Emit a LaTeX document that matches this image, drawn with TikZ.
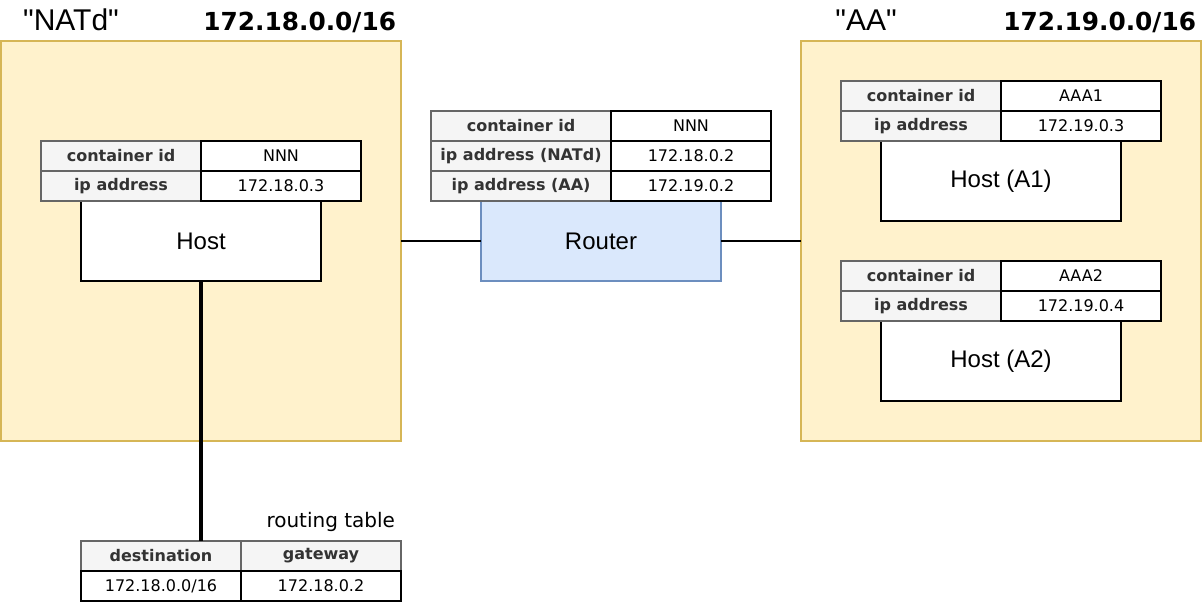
\documentclass[tikz,border=0pt]{standalone}
\usepackage{fontspec}
\setmainfont{Liberation Sans}[Ligatures=TeXOff]
\newfontfamily\vfont{DejaVu Sans}
\definecolor{zonefill}{HTML}{FFF2CC}
\definecolor{zonedraw}{HTML}{D6B656}
\definecolor{hfill}{HTML}{F5F5F5}
\definecolor{hdraw}{HTML}{666666}
\definecolor{rfill}{HTML}{DAE8FC}
\definecolor{rdraw}{HTML}{6C8EBF}
\definecolor{htext}{HTML}{333333}
\tikzset{
  zone/.style={draw=zonedraw, fill=zonefill, line width=1pt, minimum width=300pt, minimum height=300pt},
  hcell/.style={draw=hdraw, fill=hfill, line width=1pt, minimum height=22.5pt, text=htext, font=\vfont\bfseries\fontsize{12}{14}\selectfont},
  vcell/.style={draw=black, fill=white, line width=1pt, minimum height=22.5pt, font=\vfont\fontsize{12}{14}\selectfont},
  hostbox/.style={draw=black, fill=white, line width=1pt, minimum width=180pt, minimum height=60pt, font=\fontsize{18}{22}\selectfont},
  routerbox/.style={draw=rdraw, fill=rfill, line width=1pt, minimum width=180pt, minimum height=60pt, font=\fontsize{18}{22}\selectfont},
  title/.style={font=\fontsize{22.5}{27}\selectfont},
  subnet/.style={font=\vfont\bfseries\fontsize{18.6}{22}\selectfont, anchor=east},
  conn/.style={draw=black, line width=1pt},
  thickconn/.style={draw=black, line width=3pt},
}
\begin{document}
\begin{tikzpicture}[x=0.75pt,y=-0.75pt, every node/.style={inner sep=0pt, outer sep=0pt}]
\useasboundingbox (0,0) rectangle (1202,602);

% zones
\node[zone] (natd) at (201,241) {};
\node[zone] (aa) at (1001,241) {};

% titles
\node[title] (natdtitle) at (71,20) {"NATd"};
\node[subnet] (natdnet) at (396,22) {172.18.0.0/16};
\node[title] (aatitle) at (866,20) {"AA"};
\node[subnet] (aanet) at (1196,22) {172.19.0.0/16};

% NATd host
\node[hostbox] (host) at (201,241) {Host};
\node[hcell, minimum width=120pt] (hc1) at (121,156) {container id};
\node[hcell, minimum width=120pt] (hc2) at (121,186) {ip address};
\node[vcell, minimum width=120pt] (hv1) at (281,156) {NNN};
\node[vcell, minimum width=120pt] (hv2) at (281,186) {172.18.0.3};

% Router
\node[routerbox] (router) at (601,241) {Router};
\node[hcell, minimum width=135pt] (rc1) at (521,126) {container id};
\node[hcell, minimum width=135pt] (rc2) at (521,156) {ip address (NATd)};
\node[hcell, minimum width=135pt] (rc3) at (521,186) {ip address (AA)};
\node[vcell, minimum width=120pt] (rv1) at (691,126) {NNN};
\node[vcell, minimum width=120pt] (rv2) at (691,156) {172.18.0.2};
\node[vcell, minimum width=120pt] (rv3) at (691,186) {172.19.0.2};

% AA host 1
\node[hostbox] (hosta1) at (1001,181) {Host (A1)};
\node[hcell, minimum width=120pt] (a1c1) at (921,96) {container id};
\node[hcell, minimum width=120pt] (a1c2) at (921,126) {ip address};
\node[vcell, minimum width=120pt] (a1v1) at (1081,96) {AAA1};
\node[vcell, minimum width=120pt] (a1v2) at (1081,126) {172.19.0.3};

% AA host 2
\node[hostbox] (hosta2) at (1001,361) {Host (A2)};
\node[hcell, minimum width=120pt] (a2c1) at (921,276) {container id};
\node[hcell, minimum width=120pt] (a2c2) at (921,306) {ip address};
\node[vcell, minimum width=120pt] (a2v1) at (1081,276) {AAA2};
\node[vcell, minimum width=120pt] (a2v2) at (1081,306) {172.19.0.4};

% routing table
\node[font=\vfont\fontsize{15}{18}\selectfont, anchor=east] (rtlabel) at (395,522) {routing table};
\node[hcell, minimum width=120pt] (rtd) at (161,556) {destination};
\node[hcell, minimum width=120pt] (rtg) at (321,556) {gateway};
\node[vcell, minimum width=120pt] (rtdv) at (161,586) {172.18.0.0/16};
\node[vcell, minimum width=120pt] (rtgv) at (321,586) {172.18.0.2};

% connectors
\draw[conn] (natd.east) -- (router.west);
\draw[conn] (router.east) -- (aa.west);
\draw[thickconn] (host.south) -- (host.south |- rtd.north);
\end{tikzpicture}
\end{document}
